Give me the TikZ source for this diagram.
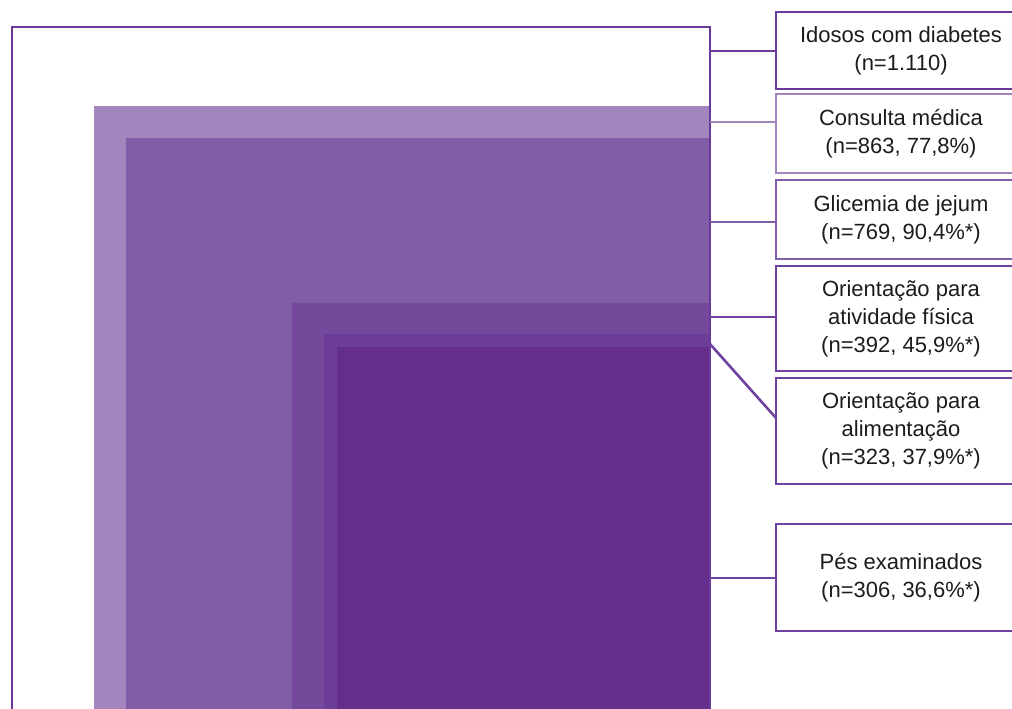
\documentclass[tikz,border=0pt]{standalone}
\usepackage{fontspec}
\setmainfont{Liberation Sans}
\newfontfamily\labelfont{Liberation Sans}
\begin{document}
\begin{tikzpicture}[x=1pt,y=-1pt,
  lbl/.style={draw, line width=2.6pt, fill=white, minimum width=250pt, inner sep=0pt,
    align=center, text={rgb,255:red,30;green,27;blue,28},
    font=\labelfont\fontsize{22pt}{28pt}\selectfont},
  link/.style={line width=2.6pt}]
\definecolor{ring0}{RGB}{106,58,154}
\definecolor{ring1}{RGB}{162,133,188}
\definecolor{ring2}{RGB}{129,93,168}
\definecolor{ring3}{RGB}{116,72,154}
\definecolor{ring4}{RGB}{108,62,153}
\definecolor{ring5}{RGB}{100,46,141}
\definecolor{edge4}{RGB}{111,66,160}
\useasboundingbox (0,0) rectangle (1012,709);
\clip (0,0) rectangle (1012,709);

% nested sets, largest first
\fill[white] (12,27) rectangle (710,740);
\fill[ring1] (94,106) rectangle (710,740);
\fill[ring2] (126,138) rectangle (710,740);
\fill[ring3] (292,303) rectangle (710,740);
\fill[ring4] (324,334) rectangle (710,740);
\fill[ring5] (337,347) rectangle (710,740);
\draw[ring0, line width=2.6pt] (12,27) rectangle (710,740);

% label boxes
\node[lbl, draw=ring0, minimum height=77pt] (b1) at (901,50.5)
  {Idosos com diabetes\\(n=1.110)};
\node[lbl, draw=ring1, minimum height=79pt] (b2) at (901,133.5)
  {Consulta médica\\(n=863, 77,8\%)};
\node[lbl, draw=ring2, minimum height=79pt] (b3) at (901,219.5)
  {Glicemia de jejum\\(n=769, 90,4\%*)};
\node[lbl, draw=edge4, minimum height=105pt] (b4) at (901,318.5)
  {Orientação para\\atividade física\\(n=392, 45,9\%*)};
\node[lbl, draw=edge4, minimum height=106pt] (b5) at (901,431)
  {Orientação para\\alimentação\\(n=323, 37,9\%*)};
\node[lbl, draw=edge4, minimum height=107pt] (b6) at (901,577.5)
  {Pés examinados\\(n=306, 36,6\%*)};

% connector anchors on the outer edge
\coordinate (c1) at (710,51);
\coordinate (c2) at (710,122);
\coordinate (c3) at (710,222);
\coordinate (c4) at (710,317);
\coordinate (c5) at (710,344);
\coordinate (e5) at (776,418);
\coordinate (c6) at (710,578);

\draw[link, ring0] (c1) -- (c1 -| b1.west);
\draw[link, ring1] (c2) -- (c2 -| b2.west);
\draw[link, ring2] (c3) -- (c3 -| b3.west);
\draw[link, edge4] (c4) -- (c4 -| b4.west);
\draw[link, edge4] (c5) -- (e5);
\draw[link, edge4] (c6) -- (c6 -| b6.west);
\end{tikzpicture}
\end{document}
